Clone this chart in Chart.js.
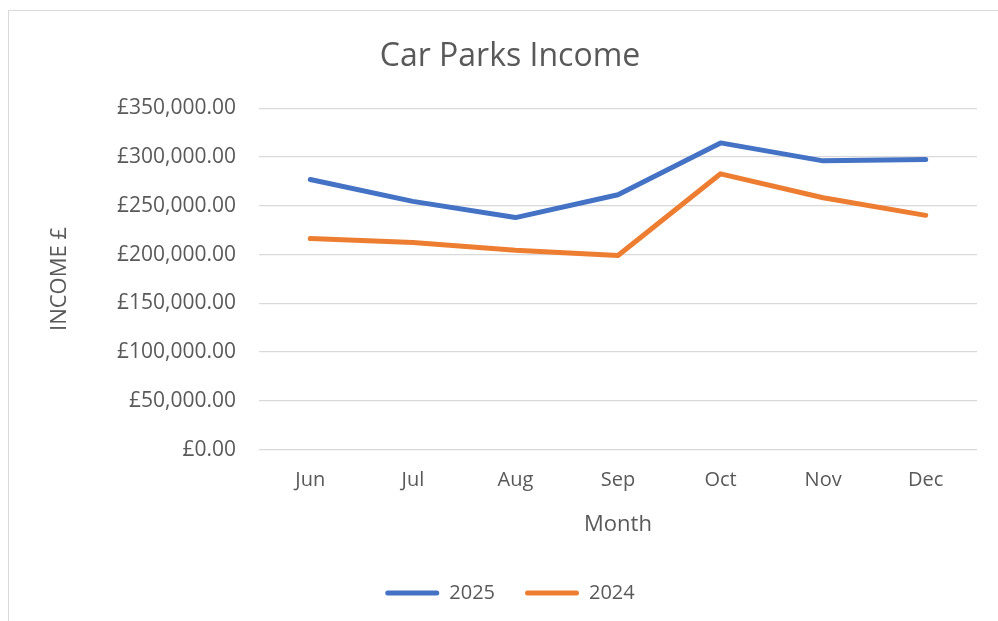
<!DOCTYPE html>
<html>
<head>
<meta charset="utf-8">
<script src="https://cdn.jsdelivr.net/npm/chart.js@4"></script>
<style>
  html, body { margin: 0; padding: 0; background: #ffffff; }
  #wrap { width: 998px; height: 621px; }
</style>
</head>
<body>
<div id="wrap"><canvas id="carParksCanvas" width="998" height="621"></canvas></div>
<script>
const meses = ['Jun', 'Jul', 'Aug', 'Sep', 'Oct', 'Nov', 'Dec'];
const ingresos2025 = [277000, 254600, 238000, 261400, 314600, 296200, 297500];
const ingresos2024 = [216500, 212400, 204500, 199100, 282900, 258400, 240300];
const yTicks = [0, 50000, 100000, 150000, 200000, 250000, 300000, 350000];

const textColor = '#595959';
const gridColor = '#d9d9d9';
const fontFamily = '"Open Sans", "Noto Sans", sans-serif';

// light frame around the chart like the Excel chart box
const frame = {
    id: 'frame',
    beforeDraw(chart) {
        const ctx = chart.ctx;
        ctx.save();
        ctx.strokeStyle = gridColor;
        ctx.lineWidth = 1;
        ctx.beginPath();
        ctx.moveTo(8.5, chart.height);
        ctx.lineTo(8.5, 10.5);
        ctx.lineTo(chart.width, 10.5);
        ctx.stroke();
        ctx.restore();
    }
};

const ctx = document.getElementById('carParksCanvas').getContext('2d');
new Chart(ctx, {
    type: 'line',
    data: {
        labels: meses,
        datasets: [{
            label: '2025',
            data: ingresos2025,
            borderColor: '#4472C4',
            backgroundColor: '#4472C4',
            borderWidth: 5,
            borderCapStyle: 'round',
            borderJoinStyle: 'round',
            pointRadius: 0,
            tension: 0
        }, {
            label: '2024',
            data: ingresos2024,
            borderColor: '#ED7D31',
            backgroundColor: '#ED7D31',
            borderWidth: 5,
            borderCapStyle: 'round',
            borderJoinStyle: 'round',
            pointRadius: 0,
            tension: 0
        }]
    },
    options: {
        responsive: false,
        animation: false,
        layout: {
            padding: { top: 10, left: 43, right: 21, bottom: 8 }
        },
        plugins: {
            title: {
                display: true,
                text: 'Car Parks Income',
                color: textColor,
                font: { family: fontFamily, size: 32, weight: 'normal' },
                padding: { top: 28, bottom: 32 }
            },
            legend: {
                position: 'bottom',
                labels: {
                    color: textColor,
                    font: { family: fontFamily, size: 20 },
                    boxWidth: 54,
                    boxHeight: 5,
                    useBorderRadius: true,
                    borderRadius: 2.5,
                    padding: 30,
                    generateLabels: function (chart) {
                        const items = Chart.defaults.plugins.legend.labels.generateLabels(chart);
                        items.forEach(item => {
                            item.fillStyle = item.strokeStyle;
                            item.lineWidth = 0;
                        });
                        return items;
                    }
                }
            },
            tooltip: { enabled: false }
        },
        scales: {
            x: {
                offset: true,
                grid: { display: false, drawTicks: false },
                border: { display: false },
                ticks: {
                    color: textColor,
                    font: { family: fontFamily, size: 20 },
                    padding: 19
                },
                title: {
                    display: true,
                    text: 'Month',
                    color: textColor,
                    font: { family: fontFamily, size: 22 },
                    padding: { top: 0, bottom: 15 }
                }
            },
            y: {
                min: 0,
                max: 350000,
                afterBuildTicks: function (scale) {
                    scale.ticks = yTicks.map(v => ({ value: v }));
                },
                afterFit: function (scale) {
                    scale.width = 216;
                },
                grid: { color: gridColor, lineWidth: 1.3, drawTicks: false },
                border: { display: false },
                ticks: {
                    color: textColor,
                    font: { family: fontFamily, size: 21 },
                    padding: 23,
                    callback: function (value) {
                        return '£' + Number(value).toLocaleString('en-GB', {
                            minimumFractionDigits: 2,
                            maximumFractionDigits: 2
                        });
                    }
                },
                title: {
                    display: true,
                    text: 'INCOME £',
                    color: textColor,
                    font: { family: fontFamily, size: 22 },
                    padding: { top: 4, bottom: 4 }
                }
            }
        }
    },
    plugins: [frame]
});
</script>
</body>
</html>
